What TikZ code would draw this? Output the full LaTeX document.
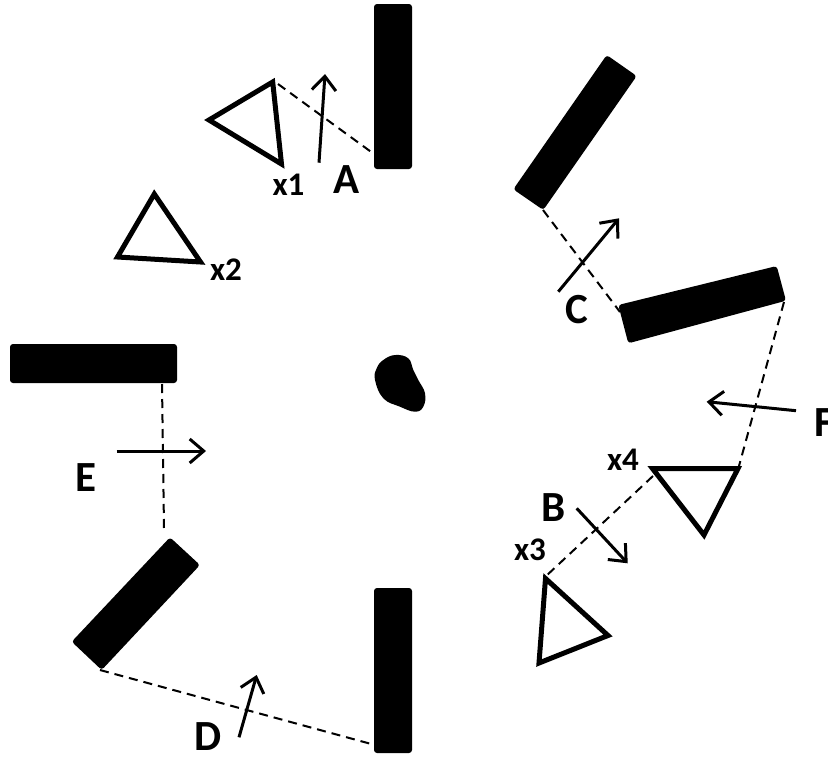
\documentclass[tikz,border=0pt]{standalone}
\usepackage{fontspec}
\setmainfont{Carlito}
\usetikzlibrary{arrows.meta}
\begin{document}
\begin{tikzpicture}[x=1pt,y=-1pt,
  bar/.style={fill=black, rounded corners=3pt},
  tri/.style={draw=black, line width=5pt, line join=miter},
  link/.style={draw=black, line width=2pt, dash pattern=on 9pt off 6pt},
  flow/.style={draw=black, line width=3pt, -{Straight Barb[length=14pt,width=24pt]}},
  lbl/.style={font=\bfseries\fontsize{43}{43}\selectfont, inner sep=0pt},
  xlbl/.style={font=\bfseries\fontsize{33}{33}\selectfont, inner sep=0pt}]
\useasboundingbox (0,0) rectangle (828,756);
\clip (0,0) rectangle (828,756);
% bars
\coordinate (b1a) at (374,4);   \coordinate (b1b) at (412,4);
\coordinate (b1c) at (412,169); \coordinate (b1d) at (374,169);
\fill[bar] (b1a) -- (b1b) -- (b1c) -- (b1d) -- cycle;
\coordinate (b2a) at (606.7,55);  \coordinate (b2b) at (636.7,76);
\coordinate (b2c) at (543.3,210); \coordinate (b2d) at (513.3,189.3);
\fill[bar] (b2a) -- (b2b) -- (b2c) -- (b2d) -- cycle;
\coordinate (b3a) at (618.3,305); \coordinate (b3b) at (776.7,266);
\coordinate (b3c) at (786,300.7); \coordinate (b3d) at (628.3,343.3);
\fill[bar] (b3a) -- (b3b) -- (b3c) -- (b3d) -- cycle;
\coordinate (b4a) at (10,344);  \coordinate (b4b) at (177,344);
\coordinate (b4c) at (177,383); \coordinate (b4d) at (10,383);
\fill[bar] (b4a) -- (b4b) -- (b4c) -- (b4d) -- cycle;
\coordinate (b5a) at (170,537.3); \coordinate (b5b) at (200,565);
\coordinate (b5c) at (101.7,670); \coordinate (b5d) at (71.7,641.7);
\fill[bar] (b5a) -- (b5b) -- (b5c) -- (b5d) -- cycle;
\coordinate (b6a) at (374,588); \coordinate (b6b) at (412,588);
\coordinate (b6c) at (412,753); \coordinate (b6d) at (374,753);
\fill[bar] (b6a) -- (b6b) -- (b6c) -- (b6d) -- cycle;
% triangles
\coordinate (t1a) at (272.7,82); \coordinate (t1b) at (209,120); \coordinate (t1c) at (281.5,164);
\draw[tri] (t1a) -- (t1b) -- (t1c) -- cycle;
\coordinate (t2a) at (154.3,194); \coordinate (t2b) at (117.5,257); \coordinate (t2c) at (200.5,262);
\draw[tri] (t2a) -- (t2b) -- (t2c) -- cycle;
\coordinate (t4a) at (652.5,468.5); \coordinate (t4b) at (738,468.5); \coordinate (t4c) at (704,535);
\draw[tri] (t4a) -- (t4b) -- (t4c) -- cycle;
\coordinate (t3a) at (545.5,578.5); \coordinate (t3b) at (608,635.5); \coordinate (t3c) at (539,663);
\draw[tri] (t3a) -- (t3b) -- (t3c) -- cycle;
% blob
\fill[black] plot[smooth cycle, tension=0.7] coordinates {
  (383.3,360) (395,355) (408.3,358.3) (413.3,370) (418.3,380) (425,393.3)
  (423.3,406.7) (415,411.7) (400,406.7) (383.3,398.3) (375,380) (376.7,368.3)};
% dashed links
\coordinate (lA1) at (278,84);  \coordinate (lA2) at (374,154);
\draw[link] (lA1) -- (lA2);
\coordinate (lC1) at (543,210); \coordinate (lC2) at (620,312);
\draw[link] (lC1) -- (lC2);
\coordinate (lF1) at (784,302); \coordinate (lF2) at (739,466);
\draw[link] (lF1) -- (lF2);
\coordinate (lB1) at (653,476); \coordinate (lB2) at (545,577);
\draw[link] (lB1) -- (lB2);
\coordinate (lE1) at (162,384); \coordinate (lE2) at (164,528);
\draw[link] (lE1) -- (lE2);
\coordinate (lD1) at (100,670); \coordinate (lD2) at (375,745);
\draw[link] (lD1) -- (lD2);
% flow arrows
\coordinate (aA1) at (319,162.7); \coordinate (aA2) at (325,74);
\draw[flow] (aA1) -- (aA2);
\coordinate (aC1) at (558.3,291.7); \coordinate (aC2) at (619,218.3);
\draw[flow] (aC1) -- (aC2);
\coordinate (aF1) at (796,410.7); \coordinate (aF2) at (706.7,401.7);
\draw[flow] (aF1) -- (aF2);
\coordinate (aB1) at (576.7,508.3); \coordinate (aB2) at (627.7,563.3);
\draw[flow] (aB1) -- (aB2);
\coordinate (aE1) at (116.7,451); \coordinate (aE2) at (206,451);
\draw[flow] (aE1) -- (aE2);
\coordinate (aD1) at (239,737.3); \coordinate (aD2) at (256.7,675);
\draw[flow] (aD1) -- (aD2);
% labels
\node[lbl] (LA) at (346.5,180) {A};
\node[lbl] (LB) at (553.5,507.5) {B};
\node[lbl] (LC) at (577,310) {C};
\node[lbl] (LD) at (208,737) {D};
\node[lbl] (LE) at (86,477.5) {E};
\node[lbl, anchor=west] (LF) at (814,422.5) {F};
\node[xlbl] (X1) at (288.5,185) {x1};
\node[xlbl] (X2) at (226,270) {x2};
\node[xlbl] (X3) at (530,550) {x3};
\node[xlbl] (X4) at (623,460) {x4};
\end{tikzpicture}
\end{document}
